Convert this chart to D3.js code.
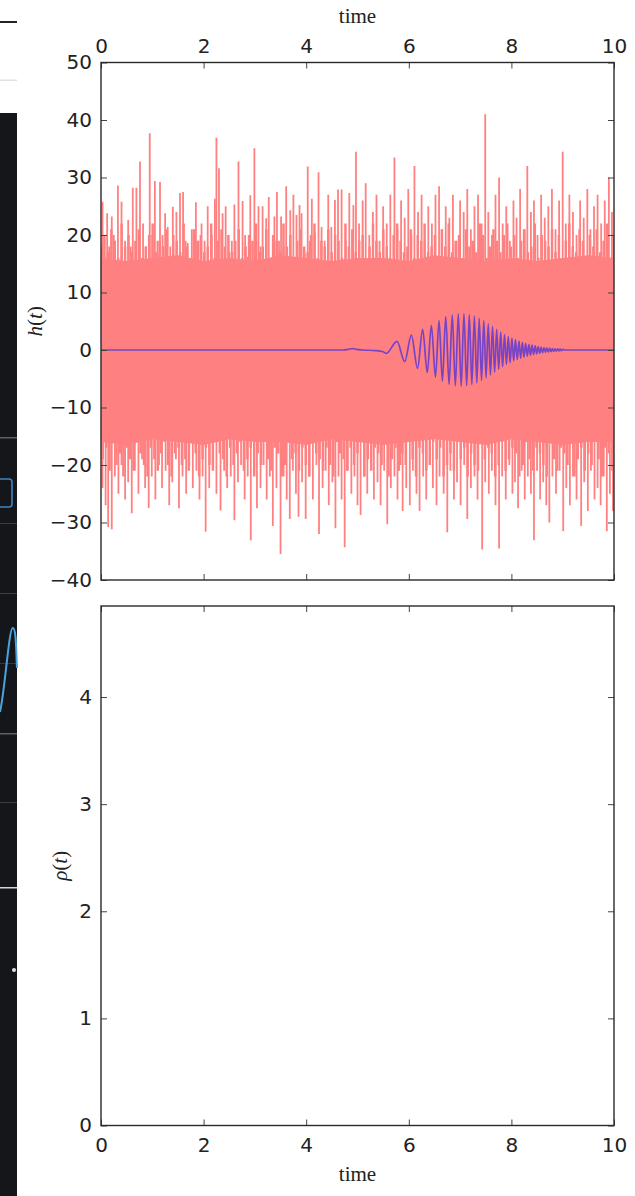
<!DOCTYPE html>
<html>
<head>
<meta charset="utf-8">
<script src="https://cdn.jsdelivr.net/npm/d3@7"></script>
<style>
  body { margin: 0; background: #fff; }
  svg { display: block; }
</style>
</head>
<body>
<svg id="fig" width="635" height="1196"></svg>
<script>
// ---- data -------------------------------------------------------------
const timeTicks = [0, 2, 4, 6, 8, 10];
const strainTicks = [-40, -30, -20, -10, 0, 10, 20, 30, 40, 50];
const snrTicks = [0, 1, 2, 3, 4];

// dense part of the noisy strain record: [time, upper, lower]
const noiseCore = [
  [0.0, 16, -16], [0.5, 15.5, -16.5], [1.0, 16, -15.5], [1.5, 16.5, -16], [2.0, 15.5, -16.5],
  [2.5, 16, -15.5], [3.0, 15.5, -16], [3.5, 16.5, -16], [4.0, 16, -16.5], [4.5, 15.5, -15.5],
  [5.0, 16, -16], [5.5, 16, -16.5], [6.0, 15.5, -16], [6.5, 16.5, -15.5], [7.0, 16, -16],
  [7.5, 15.5, -16.5], [8.0, 16, -15.5], [8.5, 15.5, -16], [9.0, 16, -16.5], [9.5, 16.5, -16],
  [10.0, 16, -16]
];

// moderate excursions at the regular sample step (10 / 149 time units)
const fillStep = 10 / 149;
const noiseFillUp = [
  18,20,17,21,19,16,22,18,20,17,19,21,16,18,20,22,17,19,18,21,
  16,20,19,17,22,18,16,21,19,20,17,18,22,16,19,21,18,20,17,19,
  21,16,18,20,19,22,17,18,21,16,20,19,17,22,18,20,16,19,21,18,
  17,20,22,16,19,18,21,17,20,19,16,22,18,21,17,19,20,16,18,22,
  19,17,21,18,16,20,22,19,17,18,21,16,20,19,22,17,18,20,16,21,
  18,22,17,19,20,16,21,18,19,17,22,20,16,18,21,19,17,20,22,18,
  20,16,19,21,17,18,22,16,20,19,18,21,17,20,16,19,22,18,17,21,
  19,16,20,18,21,17,19,22,16,20
];
const noiseFillDown = [
  -19,-17,-21,-16,-20,-18,-22,-17,-19,-21,-16,-18,-20,-22,-17,-19,-21,-18,-16,-20,
  -22,-18,-17,-20,-19,-21,-16,-18,-22,-19,-17,-20,-21,-16,-18,-19,-22,-17,-20,-18,
  -16,-21,-19,-17,-22,-18,-20,-16,-19,-21,-17,-18,-22,-20,-16,-19,-18,-21,-17,-20,
  -22,-16,-18,-19,-21,-17,-20,-22,-16,-18,-19,-21,-17,-20,-18,-16,-22,-19,-21,-17,
  -18,-20,-16,-22,-19,-17,-21,-18,-20,-16,-19,-22,-17,-18,-21,-20,-16,-19,-17,-22,
  -20,-18,-21,-16,-19,-17,-22,-18,-20,-21,-16,-19,-17,-18,-22,-20,-16,-21,-19,-17,
  -18,-22,-20,-16,-19,-21,-17,-18,-20,-22,-16,-19,-21,-17,-18,-20,-16,-22,-19,-17,
  -21,-18,-20,-16,-19,-22,-17,-18,-21,-20
];

// larger positive excursions of the noise: [time, value]
const noiseUp = [
  [0.03,25.8],[0.12,23.8],[0.16,18],[0.21,23.2],[0.25,20],[0.33,28.6],[0.40,25.8],[0.47,19],
  [0.53,22.6],[0.58,18],[0.62,28.2],[0.69,28.2],[0.76,32.8],[0.82,22],[0.88,18],[0.95,37.7],
  [1.00,20],[1.05,29.4],[1.10,19],[1.15,29.2],[1.20,20],[1.25,23.8],[1.30,21.4],[1.35,18],
  [1.40,24.9],[1.47,24],[1.54,27.3],[1.60,27.5],[1.65,19],[1.69,18.6],[1.77,21],[1.85,25.7],
  [1.90,19],[1.96,22],[2.02,19],[2.08,25],[2.16,20],[2.22,26.3],[2.25,36.9],[2.30,31.6],
  [2.37,23.8],[2.43,25],[2.50,17.1],[2.55,19],[2.60,25.3],[2.68,32.8],[2.76,25.9],[2.81,20],
  [2.86,16.2],[2.91,26.9],[2.99,35.1],[3.03,19],[3.07,25],[3.11,18],[3.15,25],[3.22,22.9],
  [3.27,26.6],[3.35,18.6],[3.38,23.2],[3.43,27.5],[3.47,19],[3.51,23.2],[3.56,18],[3.61,28.5],
  [3.69,24.3],[3.75,27],[3.81,23.5],[3.87,25.2],[3.91,23.8],[3.97,16.8],[4.03,31.9],[4.07,19],
  [4.11,26.3],[4.17,20.3],[4.24,30.9],[4.30,21.4],[4.36,19],[4.43,27],[4.49,21.4],[4.56,26.1],
  [4.62,27.9],[4.69,27.9],[4.77,19.1],[4.84,27.3],[4.92,25.2],[4.97,34.5],
  [5.03,22],[5.10,26],[5.16,29],[5.23,20],[5.30,24],[5.37,27],[5.43,19],[5.50,25],
  [5.57,22],[5.64,27],[5.72,33.5],[5.78,21],[5.85,26],[5.92,23],[5.99,28],[6.05,20],
  [6.11,32],[6.18,24],[6.25,27],[6.31,19],[6.38,25],[6.45,22],[6.52,27],[6.59,28.5],
  [6.65,21],[6.72,25],[6.79,23],[6.86,27],[6.93,19],[7.00,26],[7.07,24],[7.14,28],
  [7.21,21],[7.28,25],[7.35,27],[7.42,22],[7.49,41],[7.55,24],[7.62,20],[7.69,27],
  [7.76,30],[7.83,22],[7.90,25],[7.97,19],[8.04,26],[8.10,23],[8.17,28],[8.24,21],
  [8.31,32],[8.38,24],[8.44,26],[8.51,20],[8.58,27],[8.65,23],[8.72,25],[8.79,28],
  [8.86,21],[8.93,26],[9.00,34.5],[9.06,22],[9.13,27],[9.20,24],[9.27,20],[9.34,26],
  [9.41,23],[9.48,28],[9.54,21],[9.61,25],[9.68,27],[9.75,22],[9.82,26],[9.90,30],[9.96,24]
];

// larger negative excursions of the noise: [time, value]
const noiseDown = [
  [0.03,-24],[0.09,-27],[0.14,-30.8],[0.21,-31.2],[0.27,-22],[0.34,-25],[0.40,-20],[0.47,-26],
  [0.53,-23],[0.60,-28.4],[0.66,-21],[0.73,-25],[0.80,-19],[0.86,-24],[0.93,-27.5],[0.99,-22],
  [1.06,-26],[1.13,-20],[1.19,-24],[1.26,-21],[1.33,-27],[1.39,-23],[1.46,-19],[1.52,-27.5],
  [1.59,-22],[1.66,-25],[1.72,-20],[1.79,-24],[1.86,-21],[1.92,-26],[1.98,-22],[2.04,-31.6],
  [2.11,-24],[2.18,-20],[2.25,-25],[2.33,-27.9],[2.40,-21],[2.46,-24],[2.53,-22],[2.60,-29.6],
  [2.67,-23],[2.73,-20],[2.80,-26],[2.86,-22],[2.92,-33.1],[2.98,-21],[3.04,-27.5],[3.11,-24],
  [3.17,-20],[3.23,-26],[3.29,-22],[3.35,-30.6],[3.42,-24],[3.50,-35.5],[3.56,-22],[3.62,-26],
  [3.68,-29.4],[3.74,-21],[3.80,-25],[3.85,-29],[3.92,-23],[3.99,-29.4],[4.06,-22],[4.13,-26],
  [4.20,-20],[4.25,-32],[4.32,-24],[4.38,-21],[4.44,-27],[4.51,-23],[4.57,-31],[4.63,-22],
  [4.69,-26],[4.75,-34.3],[4.81,-21],[4.88,-25],[4.94,-22],[5.00,-27],[5.06,-28.7],[5.13,-22],
  [5.19,-25],[5.26,-20],[5.32,-26],[5.39,-23],[5.45,-27],[5.52,-21],[5.58,-30.3],[5.65,-24],
  [5.72,-22],[5.78,-26],[5.84,-20],[5.88,-28],[5.95,-24],[6.02,-27],[6.08,-21],[6.15,-25],
  [6.21,-28],[6.28,-22],[6.34,-26],[6.41,-20],[6.47,-24],[6.54,-27],[6.60,-22],[6.68,-25],
  [6.75,-31.7],[6.81,-21],[6.88,-26],[6.94,-23],[7.01,-27],[7.08,-20],[7.14,-29.4],[7.21,-24],
  [7.28,-22],[7.34,-26],[7.43,-34.7],[7.49,-23],[7.56,-25],[7.62,-21],[7.69,-27],[7.76,-34.5],
  [7.82,-22],[7.89,-26],[7.96,-20],[8.02,-25],[8.07,-23],[8.13,-27.5],[8.20,-21],[8.26,-26],
  [8.32,-22],[8.38,-25],[8.44,-33.1],[8.50,-21],[8.56,-26],[8.62,-23],[8.68,-27],[8.74,-30],
  [8.80,-22],[8.87,-25],[8.94,-21],[9.01,-31.5],[9.07,-24],[9.14,-27],[9.20,-22],[9.27,-26],
  [9.36,-30.6],[9.42,-23],[9.49,-28],[9.55,-21],[9.62,-26],[9.68,-24],[9.74,-27],[9.80,-22],
  [9.86,-31.5],[9.92,-25],[9.98,-28]
];

// clean chirp signal, given by its turning points: [time, value]
const chirp = [
  [0,0],[4.7,0],[4.82,0.1],[4.9,0.25],[4.98,0.1],[5.1,0],[5.35,-0.1],[5.5,-0.3],[5.56,-0.6],
  [5.77,1.5],[5.92,-2.0],[6.05,2.6],[6.17,-3.2],[6.27,3.6],[6.36,-3.9],[6.44,4.3],[6.52,-4.7],
  [6.59,5.1],[6.655,-5.4],[6.72,5.8],[6.785,-6.0],[6.847,6.1],[6.907,-6.2],[6.965,6.3],
  [7.021,-6.3],[7.075,6.3],[7.128,-6.2],[7.179,6.1],[7.229,-6.0],[7.278,5.9],[7.326,-5.7],
  [7.372,5.5],[7.418,-5.3],[7.462,5.1],[7.506,-4.85],[7.549,4.6],[7.591,-4.35],[7.632,4.1],
  [7.673,-3.85],[7.713,3.6],[7.752,-3.35],[7.791,3.1],[7.829,-2.9],[7.866,2.7],[7.903,-2.5],
  [7.939,2.35],[7.975,-2.2],[8.010,2.05],[8.045,-1.9],[8.080,1.8],[8.114,-1.65],[8.148,1.55],
  [8.181,-1.45],[8.214,1.35],[8.246,-1.25],[8.278,1.15],[8.310,-1.07],[8.341,1.0],[8.372,-0.92],
  [8.403,0.85],[8.433,-0.78],[8.463,0.72],[8.493,-0.66],[8.522,0.61],[8.551,-0.56],[8.580,0.51],
  [8.608,-0.47],[8.636,0.43],[8.664,-0.4],[8.691,0.37],[8.718,-0.34],[8.745,0.31],[8.772,-0.28],
  [8.798,0.26],[8.824,-0.24],[8.850,0.22],[8.876,-0.2],[8.901,0.18],[8.926,-0.16],[8.951,0.14],
  [8.976,-0.12],[9.0,0.1],[9.05,0],[10,0]
];

// ---- layout -------------------------------------------------------------
const svg = d3.select("#fig");
svg.append("rect").attr("width", 635).attr("height", 1196).attr("fill", "#fff");

const plotLeft = 101, plotRight = 614;
const topPanel = { top: 62.5, bottom: 580 };
const lowPanel = { top: 606, bottom: 1125.5 };

const x = d3.scaleLinear().domain([0, 10]).range([plotLeft, plotRight]);
const yStrain = d3.scaleLinear().domain([-40, 50]).range([topPanel.bottom, topPanel.top]);
const ySnr = d3.scaleLinear().domain([0, 4.85]).range([lowPanel.bottom, lowPanel.top]);

const noiseColor = "#ff8080";
const chirpColor = "#7844c6";
const tickFont = "DejaVu Sans";
const labelFont = "Liberation Serif";

// ---- sidebar strip at the far left ------------------------------------
const side = svg.append("g");
side.append("rect").attr("x", 0).attr("y", 21).attr("width", 17).attr("height", 2).attr("fill", "#222");
side.append("rect").attr("x", 0).attr("y", 79.5).attr("width", 17).attr("height", 1.5).attr("fill", "#e2e2e2");
side.append("rect").attr("x", 0).attr("y", 113).attr("width", 17).attr("height", 1083).attr("fill", "#15161a");
[[437, "#5c5f66", 1.5], [523, "#3a3d42", 1], [593, "#3a3d42", 1], [663, "#34373c", 1],
 [733, "#5c5f66", 1.5], [802, "#3a3d42", 1], [887, "#d6d6d6", 1.5]].forEach(([yy, c, w]) => {
  side.append("rect").attr("x", 0).attr("y", yy).attr("width", 17).attr("height", w).attr("fill", c);
});
side.append("rect").attr("x", -6).attr("y", 479).attr("width", 18).attr("height", 28).attr("rx", 3)
  .attr("fill", "none").attr("stroke", "#3d86c6").attr("stroke-width", 1.6);
side.append("path").attr("d", "M0,712 C5,690 9,628 12.7,628 S16,650 17,668")
  .attr("fill", "none").attr("stroke", "#4aa3df").attr("stroke-width", 2);
side.append("circle").attr("cx", 14).attr("cy", 970).attr("r", 2).attr("fill", "#e0e0e0");

// ---- clip regions --------------------------------------------------------
const defs = svg.append("defs");
defs.append("clipPath").attr("id", "clipTop").append("rect")
  .attr("x", plotLeft).attr("y", topPanel.top)
  .attr("width", plotRight - plotLeft).attr("height", topPanel.bottom - topPanel.top);

// ---- upper panel: noisy strain and chirp ----------------------------------
const gTop = svg.append("g").attr("clip-path", "url(#clipTop)");

gTop.append("path")
  .datum(noiseCore)
  .attr("fill", noiseColor)
  .attr("d", d3.area().x(d => x(d[0])).y0(d => yStrain(d[2])).y1(d => yStrain(d[1])));

function spikes(data, tOf, vOf, width) {
  gTop.append("g").selectAll("line").data(data).join("line")
    .attr("x1", (d, i) => x(tOf(d, i))).attr("x2", (d, i) => x(tOf(d, i)))
    .attr("y1", yStrain(0)).attr("y2", (d, i) => yStrain(vOf(d, i)))
    .attr("stroke", noiseColor).attr("stroke-width", width);
}
spikes(noiseFillUp, (d, i) => i * fillStep, d => d, 2.5);
spikes(noiseFillDown, (d, i) => (i + 0.5) * fillStep, d => d, 2.5);
spikes(noiseUp, d => d[0], d => d[1], 1.8);
spikes(noiseDown, d => d[0], d => d[1], 1.8);

gTop.append("path")
  .datum(chirp)
  .attr("fill", "none")
  .attr("stroke", chirpColor)
  .attr("stroke-width", 1.7)
  .attr("stroke-linejoin", "round")
  .attr("d", d3.line().x(d => x(d[0])).y(d => yStrain(d[1])).curve(d3.curveMonotoneX));

// ---- axes helper ----------------------------------------------------------
function styleAxis(g) {
  g.select(".domain").remove();
  g.selectAll(".tick line").attr("stroke", "#444").attr("stroke-width", 1);
  g.selectAll(".tick text").attr("font-family", tickFont).attr("font-size", 20).attr("fill", "#222");
}

function drawPanel(panel, yScale, yTicks, xLabelsOnTop) {
  const blank = () => "";
  const intFmt = d3.format("d");
  const topAxis = d3.axisTop(x).tickValues(timeTicks).tickSize(-6).tickPadding(9.5).tickFormat(intFmt);
  if (!xLabelsOnTop) topAxis.tickFormat(blank);
  svg.append("g").attr("transform", `translate(0,${panel.top})`).call(topAxis).call(styleAxis);

  const bottomAxis = d3.axisBottom(x).tickValues(timeTicks).tickSize(-6).tickPadding(12).tickFormat(intFmt);
  if (xLabelsOnTop) bottomAxis.tickFormat(blank);
  svg.append("g").attr("transform", `translate(0,${panel.bottom})`).call(bottomAxis).call(styleAxis);

  svg.append("g").attr("transform", `translate(${plotLeft},0)`)
    .call(d3.axisLeft(yScale).tickValues(yTicks).tickSize(-6).tickPadding(9).tickFormat(intFmt))
    .call(styleAxis);
  svg.append("g").attr("transform", `translate(${plotRight},0)`)
    .call(d3.axisRight(yScale).tickValues(yTicks).tickSize(-6).tickFormat(blank))
    .call(styleAxis);

  svg.append("rect")
    .attr("x", plotLeft).attr("y", panel.top)
    .attr("width", plotRight - plotLeft).attr("height", panel.bottom - panel.top)
    .attr("fill", "none").attr("stroke", "#2a2a2a").attr("stroke-width", 1.4);
}

drawPanel(topPanel, yStrain, strainTicks, true);
drawPanel(lowPanel, ySnr, snrTicks, false);

// ---- axis titles -----------------------------------------------------------
const midX = (plotLeft + plotRight) / 2;
[23, 1181].forEach(yy => {
  svg.append("text").attr("x", midX).attr("y", yy)
    .attr("text-anchor", "middle")
    .attr("font-family", labelFont).attr("font-size", 21)
    .attr("fill", "#222").text("time");
});

function mathLabel(cx, cy, sym) {
  const t = svg.append("text")
    .attr("transform", `translate(${cx},${cy}) rotate(-90)`)
    .attr("text-anchor", "middle").attr("dy", "0.35em")
    .attr("font-family", labelFont).attr("font-size", 21).attr("fill", "#222");
  t.append("tspan").attr("font-style", "italic").text(sym);
  t.append("tspan").text("(");
  t.append("tspan").attr("font-style", "italic").text("t");
  t.append("tspan").text(")");
}
mathLabel(35, (topPanel.top + topPanel.bottom) / 2, "h");
mathLabel(60, (lowPanel.top + lowPanel.bottom) / 2, "ρ");
</script>
</body>
</html>
